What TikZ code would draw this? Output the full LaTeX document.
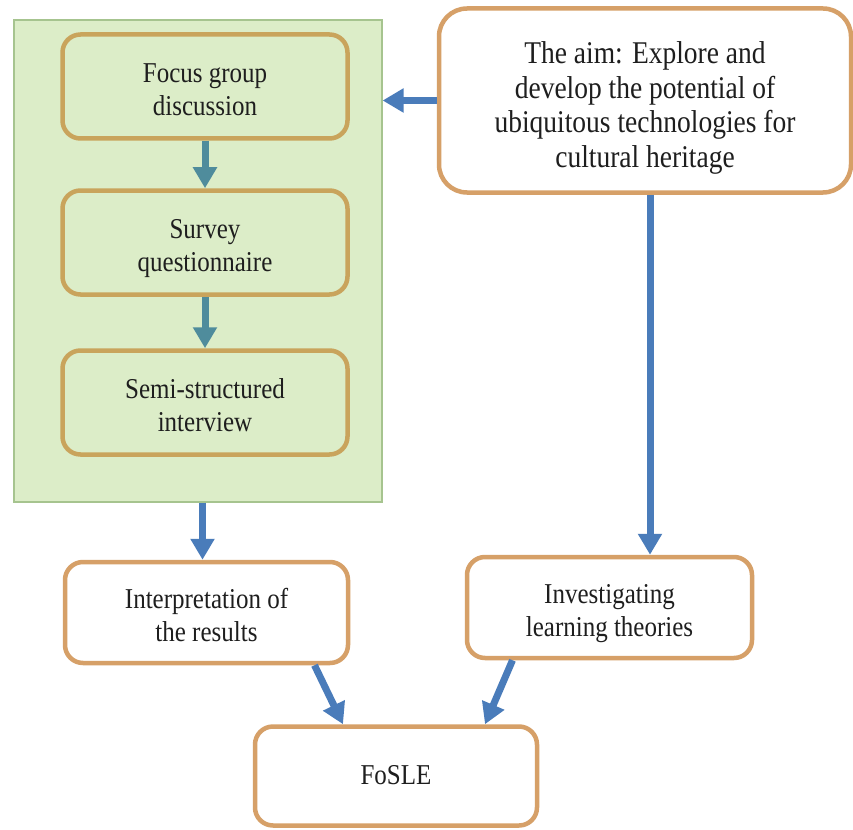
\documentclass[tikz,border=0pt]{standalone}
\usepackage{fontspec}
\setmainfont{Liberation Serif}
\usetikzlibrary{arrows.meta}
\definecolor{grpfill}{HTML}{DCEDC8}
\definecolor{grpline}{HTML}{A6C48F}
\definecolor{goldline}{HTML}{C9A45C}
\definecolor{tanline}{HTML}{D6A068}
\definecolor{bluearr}{HTML}{4A7CBA}
\definecolor{tealarr}{HTML}{4F8C9C}
\definecolor{txt}{HTML}{1E1E1E}
\newcommand\tx[2][12pt]{\raisebox{0pt}[\dimexpr\height+#1\relax][\depth]{\scalebox{1}[1.15]{\begin{tabular}{@{}c@{}}#2\end{tabular}}}}
\begin{document}
\begin{tikzpicture}[x=1pt,y=-1pt,
  box/.style={draw, rounded corners=18pt, line width=4.5pt, align=center, text=txt,
              font=\fontsize{25}{28.7}\selectfont, inner sep=0pt},
  inbox/.style={box, draw=goldline, fill=grpfill, minimum width=285pt, minimum height=104pt},
  outbox/.style={box, draw=tanline, fill=white},
  barr/.style={draw=bluearr, line width=7pt, -{Triangle[width=23pt,length=21pt]}},
  tarr/.style={draw=tealarr, line width=7pt, -{Triangle[width=23pt,length=21pt]}}]
\useasboundingbox (0,0) rectangle (853,829);
\fill[white] (0,0) rectangle (853,829);
% group
\node[draw=grpline, fill=grpfill, line width=1.2pt, minimum width=368pt, minimum height=482pt, inner sep=0pt] (grp) at (198,261) {};
\node[inbox] (focus) at (205,86.5) {\tx{Focus group\\discussion}};
\node[inbox] (survey) at (205,242.5) {\tx{Survey\\questionnaire}};
\node[inbox] (semi) at (205,402.5) {\tx{Semi-structured\\interview}};
% aim
\node[outbox, rounded corners=28pt, minimum width=412pt, minimum height=184pt,
      font=\fontsize{27.5}{30.4}\selectfont] (aim) at (645,100.5)
  {\tx[16pt]{The aim: Explore and\\develop the potential of\\ubiquitous technologies for\\cultural heritage}};
\node[outbox, minimum width=283pt, minimum height=101pt] (interp) at (206.5,612.5) {\tx{Interpretation of\\the results}};
\node[outbox, minimum width=285pt, minimum height=101pt] (invest) at (609.5,607.5) {\tx{Investigating\\learning theories}};
\node[outbox, minimum width=282pt, minimum height=99pt] (fosle) at (396,776) {\tx[4pt]{FoSLE}};
% arrows
\draw[tarr] (focus.south) -- (survey.north);
\draw[tarr] (survey.south) -- (semi.north);
\draw[barr] (aim.west) -- (aim.west -| grp.east);
\draw[barr] ([xshift=5pt]aim.south) -- ([xshift=5pt]aim.south |- invest.north);
\draw[barr] ([xshift=-4pt]interp.north |- grp.south) -- ([xshift=-4pt]interp.north);
\draw[barr] ([xshift=108pt]interp.south) -- ([xshift=-53pt]fosle.north);
\draw[barr] ([xshift=-97pt]invest.south) -- ([xshift=89pt]fosle.north);
\end{tikzpicture}
\end{document}
